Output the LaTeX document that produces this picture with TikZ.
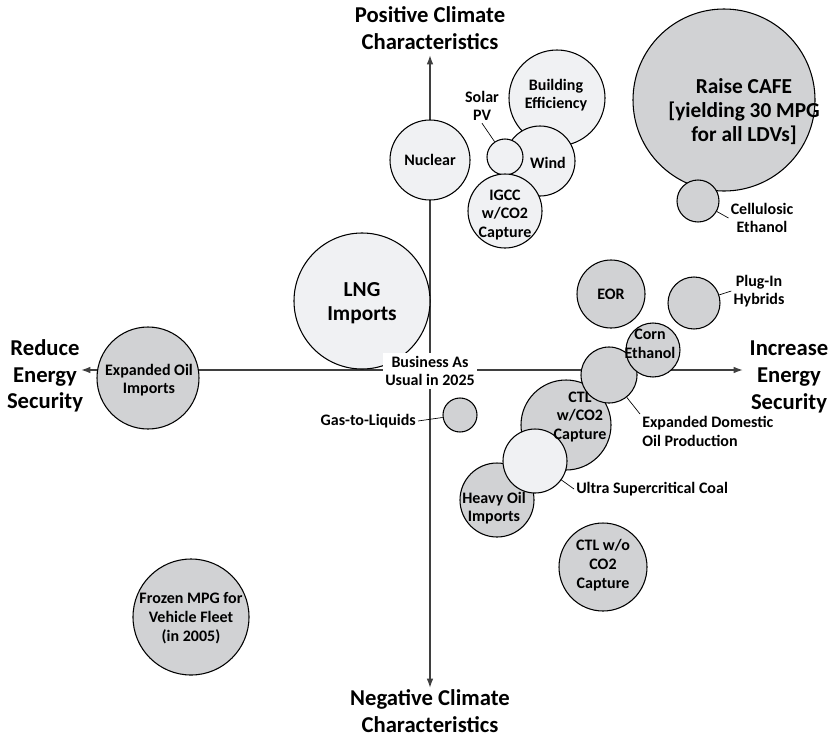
\documentclass[tikz,border=0pt]{standalone}
\usepackage{fontspec}
\setmainfont{Carlito}
\usetikzlibrary{arrows.meta}

\definecolor{darkfill}{HTML}{D1D2D4}
\definecolor{lightfill}{HTML}{F0F1F3}
\definecolor{axisgray}{HTML}{3F3F3F}

\tikzset{
  bubble/.style={circle,draw,line width=0.8pt,inner sep=0pt,minimum size=#1*1.5pt},
  dark/.style={fill=darkfill},
  light/.style={fill=lightfill},
  txt/.style={font=\bfseries\fontsize{12}{14}\selectfont,align=center,inner sep=1.5pt},
  big/.style={font=\bfseries\fontsize{16}{18}\selectfont,align=center,inner sep=1.5pt},
  head/.style={font=\bfseries\fontsize{17}{20}\selectfont,align=center,inner sep=1pt},
  axis/.style={draw=axisgray,line width=1.1pt,
    {Latex[length=7pt,width=5pt]}-{Latex[length=7pt,width=5pt]}},
  leader/.style={draw,line width=0.5pt}
}

\begin{document}
\begin{tikzpicture}[x=0.75pt,y=-0.75pt]

      \useasboundingbox (0,0) rectangle (831,736);

      % axis titles
      \node[head] (posclim) at (430,28) {Positive Climate\\Characteristics};
      \node[head] (negclim) at (430,711) {Negative Climate\\Characteristics};
      \node[head] (reduce) at (45,376) {Reduce\\Energy\\Security};
      \node[head] (increase) at (789,377) {Increase\\Energy\\Security};

      \coordinate (west) at (81,370);
      \coordinate (east) at (743,370);
      \coordinate (north) at (430,55);
      \coordinate (south) at (430,688);

      \draw[axis] (west) -- (east);
      \draw[axis] (north) -- (south);

      % bubbles
      \node[bubble=48,light] (bldg) at (557,98) {};
      \node[bubble=35,light] (wind) at (540,161) {};
      \node[bubble=18,light] (solar) at (505,157) {};
      \node[bubble=37,light] (igcc) at (505,211) {};
      \node[bubble=40,light] (nuclear) at (430,160) {};
      \node[bubble=68,light] (lng) at (362,301) {};

      \node[bubble=91,dark] (cafe) at (724,100) {};
      \node[bubble=21,dark] (cellu) at (698,201) {};
      \node[bubble=34,dark] (eor) at (611,294) {};
      \node[bubble=26,dark] (plugin) at (694,303) {};
      \node[bubble=45,dark] (ctlcap) at (566,425) {};
      \node[bubble=28,dark] (domoil) at (609,375) {};
      \node[bubble=27,dark] (corn) at (653,350) {};
      \node[bubble=37,dark] (heavy) at (497,500) {};
      \node[bubble=32,light] (usc) at (535,461) {};
      \node[bubble=17,dark] (gtl) at (460,415) {};
      \node[bubble=44,dark] (ctlnocap) at (603,567) {};
      \node[bubble=51,dark] (oilimp) at (148,378) {};
      \node[bubble=58,dark] (frozen) at (191,617) {};

      \node[txt,fill=white,inner xsep=2pt,inner ysep=2.5pt] (bau) at (430,371) {Business As\\Usual in 2025};

      % labels inside the bubbles
      \node[txt] (bldglab) at (556,95) {Building\\Efficiency};
      \node[txt] (windlab) at (548,163) {Wind};
      \node[txt] (igcclab) at (505,215) {IGCC\\w/CO2\\Capture};
      \node[txt] (nuclearlab) at (nuclear) {Nuclear};
      \node[big] (lnglab) at (362,303) {LNG\\Imports};
      \node[big] (cafelab) at (744,112) {Raise CAFE\\{[yielding 30 MPG}\\for all LDVs]};
      \node[txt] (eorlab) at (eor) {EOR};
      \node[txt] (cornlab) at (650,344) {Corn\\Ethanol};
      \node[txt] (ctlcaplab) at (580,417) {CTL\\w/CO2\\Capture};
      \node[txt] (heavylab) at (494,508) {Heavy Oil\\Imports};
      \node[txt] (ctlnocaplab) at (603,565) {CTL w/o\\CO2\\Capture};
      \node[txt] (oilimplab) at (149,380) {Expanded Oil\\Imports};
      \node[txt] (frozenlab) at (191,618) {Frozen MPG for\\Vehicle Fleet\\(in 2005)};

      % labels outside, with leaders
      \node[txt] (solarlab) at (482,106) {Solar\\PV};
      \node[txt] (cellulab) at (762,218) {Cellulosic\\Ethanol};
      \node[txt] (pluglab) at (759,291) {Plug-In\\Hybrids};
      \node[txt,align=left,anchor=north west] (domoillab) at (640,414) {Expanded Domestic\\Oil Production};
      \node[txt,anchor=west] (usclab) at (574,489) {Ultra Supercritical Coal};
      \node[txt,anchor=east] (gtllab) at (418,421) {Gas-to-Liquids};

      \path[leader] (solar) -- (solarlab.south);
      \path[leader] (cellu) -- (cellulab.west);
      \path[leader] (plugin) -- (pluglab.west);
      \path[leader] (domoil) -- (domoillab.north west);
      \path[leader] (usc) -- (usclab.west);
      \path[leader] (gtl) -- (gtllab.east);

    \end{tikzpicture}
\end{document}
